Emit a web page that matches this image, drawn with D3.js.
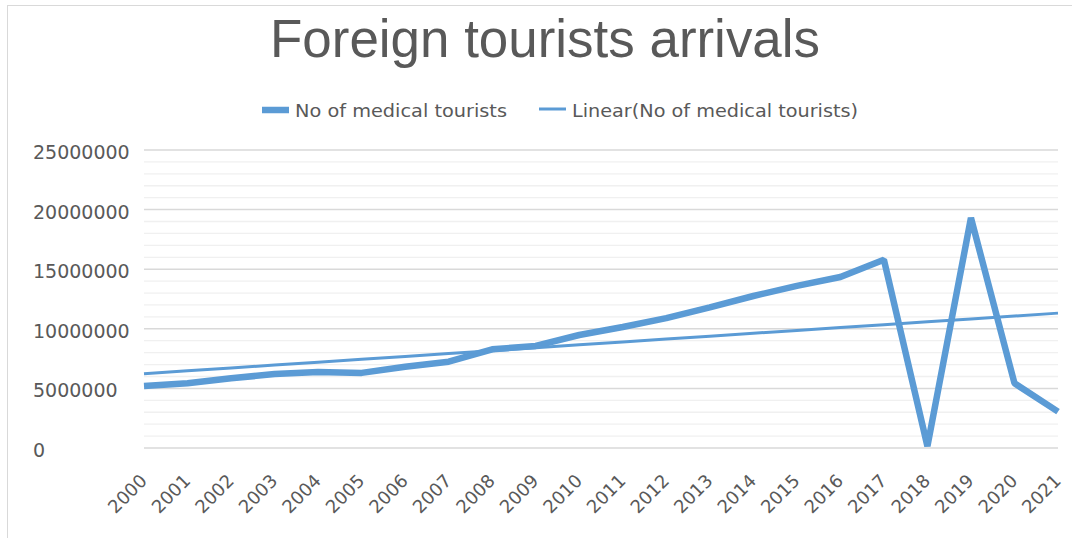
<!DOCTYPE html>
<html>
<head>
<meta charset="utf-8">
<script src="https://cdn.jsdelivr.net/npm/d3@7"></script>
<style>
  body { margin: 0; background: #fff; }
  svg text { fill: #595959; }
</style>
</head>
<body>
<svg id="chart"></svg>
<script>
// data
const years = ["2000","2001","2002","2003","2004","2005","2006","2007","2008","2009","2010",
  "2011","2012","2013","2014","2015","2016","2017","2018","2019","2020","2021"];
const medicalTourists = [5200000, 5430000, 5850000, 6200000, 6380000, 6300000, 6820000, 7240000,
  8280000, 8560000, 9480000, 10150000, 10900000, 11800000, 12750000, 13600000, 14350000,
  15800000, 150000, 19300000, 5430000, 3050000];
const yTicks = [0, 5000000, 10000000, 15000000, 20000000, 25000000];
const seriesNames = ["No of medical tourists", "Linear(No of medical tourists)"];

var width = 1072, height = 538;
var blue = "#5b9bd5";
const svg = d3.select("#chart").attr("width", width).attr("height", height);

// chart border
svg.append("rect").attr("x", 7.5).attr("y", 5.5)
  .attr("width", width).attr("height", height)
  .attr("fill", "none").attr("stroke", "#d9d9d9");

var x = d3.scalePoint().domain(years).range([144, 1058]);
var y = d3.scaleLinear().domain([0, 25000000]).range([448, 150]);

// ! gridlines, minor every 1M and major every 5M
var g = svg.append("g");
g.selectAll("line.minor")
  .data(d3.range(0, 25000001, 1000000).filter(v => v % 5000000 != 0))
  .enter().append("line")
  .attr("x1", 144).attr("x2", 1058)
  .attr("y1", d => y(d)).attr("y2", d => y(d))
  .attr("stroke", "#f0f0f0").attr("stroke-width", 1.3);
g.selectAll("line.major")
  .data(yTicks).enter().append("line")
  .attr("x1", 144).attr("x2", 1058)
  .attr("y1", d => y(d)).attr("y2", d => y(d))
  .attr("stroke", "#d9d9d9").attr("stroke-width", 1.5);

// y labels (left aligned like the reference)
svg.selectAll("text.ylab").data(yTicks).enter().append("text")
  .attr("x", 33).attr("y", d => y(d) + 9)
  .attr("font-family", "DejaVu Sans").attr("font-size", 19)
  .text(d => d);

// x labels rotated
svg.selectAll("text.xlab").data(years).enter().append("text")
  .attr("transform", d => "translate(" + (x(d) + 4) + ",482) rotate(-45)")
  .attr("text-anchor", "end")
  .attr("font-family", "DejaVu Sans").attr("font-size", 18)
  .text(d => d);

// linear trend (least squares on index)
var n = medicalTourists.length;
var mx = d3.mean(d3.range(n)), my = d3.mean(medicalTourists);
var sxy = d3.sum(medicalTourists, (v, i) => (i - mx) * (v - my));
var sxx = d3.sum(d3.range(n), i => (i - mx) * (i - mx));
var slope = sxy / sxx, icpt = my - slope * mx;
var trend = years.map((yr, i) => icpt + slope * i);

var line = d3.line().x((d, i) => x(years[i])).y(d => y(d));

svg.append("path").attr("d", line(medicalTourists))
  .attr("fill", "none").attr("stroke", blue).attr("stroke-width", 6.5)
  .attr("stroke-linejoin", "bevel");
svg.append("path").attr("d", line(trend))
  .attr("fill", "none").attr("stroke", blue).attr("stroke-width", 3);

// title
svg.append("text").attr("x", 545).attr("y", 57)
  .attr("text-anchor", "middle")
  .attr("font-family", "Liberation Sans").attr("font-size", 53)
  .attr("textLength", 550).attr("lengthAdjust", "spacingAndGlyphs")
  .text("Foreign tourists arrivals");

// legend
svg.append("line").attr("x1", 262).attr("x2", 289).attr("y1", 110).attr("y2", 110)
  .attr("stroke", blue).attr("stroke-width", 6.5);
svg.append("text").attr("x", 295).attr("y", 117)
  .attr("font-family", "DejaVu Sans").attr("font-size", 17)
  .attr("textLength", 212).attr("lengthAdjust", "spacingAndGlyphs")
  .text(seriesNames[0]);
svg.append("line").attr("x1", 539).attr("x2", 566).attr("y1", 109).attr("y2", 109)
  .attr("stroke", blue).attr("stroke-width", 3);
svg.append("text").attr("x", 572).attr("y", 117)
  .attr("font-family", "DejaVu Sans").attr("font-size", 17)
  .attr("textLength", 286).attr("lengthAdjust", "spacingAndGlyphs")
  .text(seriesNames[1]);
</script>
</body>
</html>
